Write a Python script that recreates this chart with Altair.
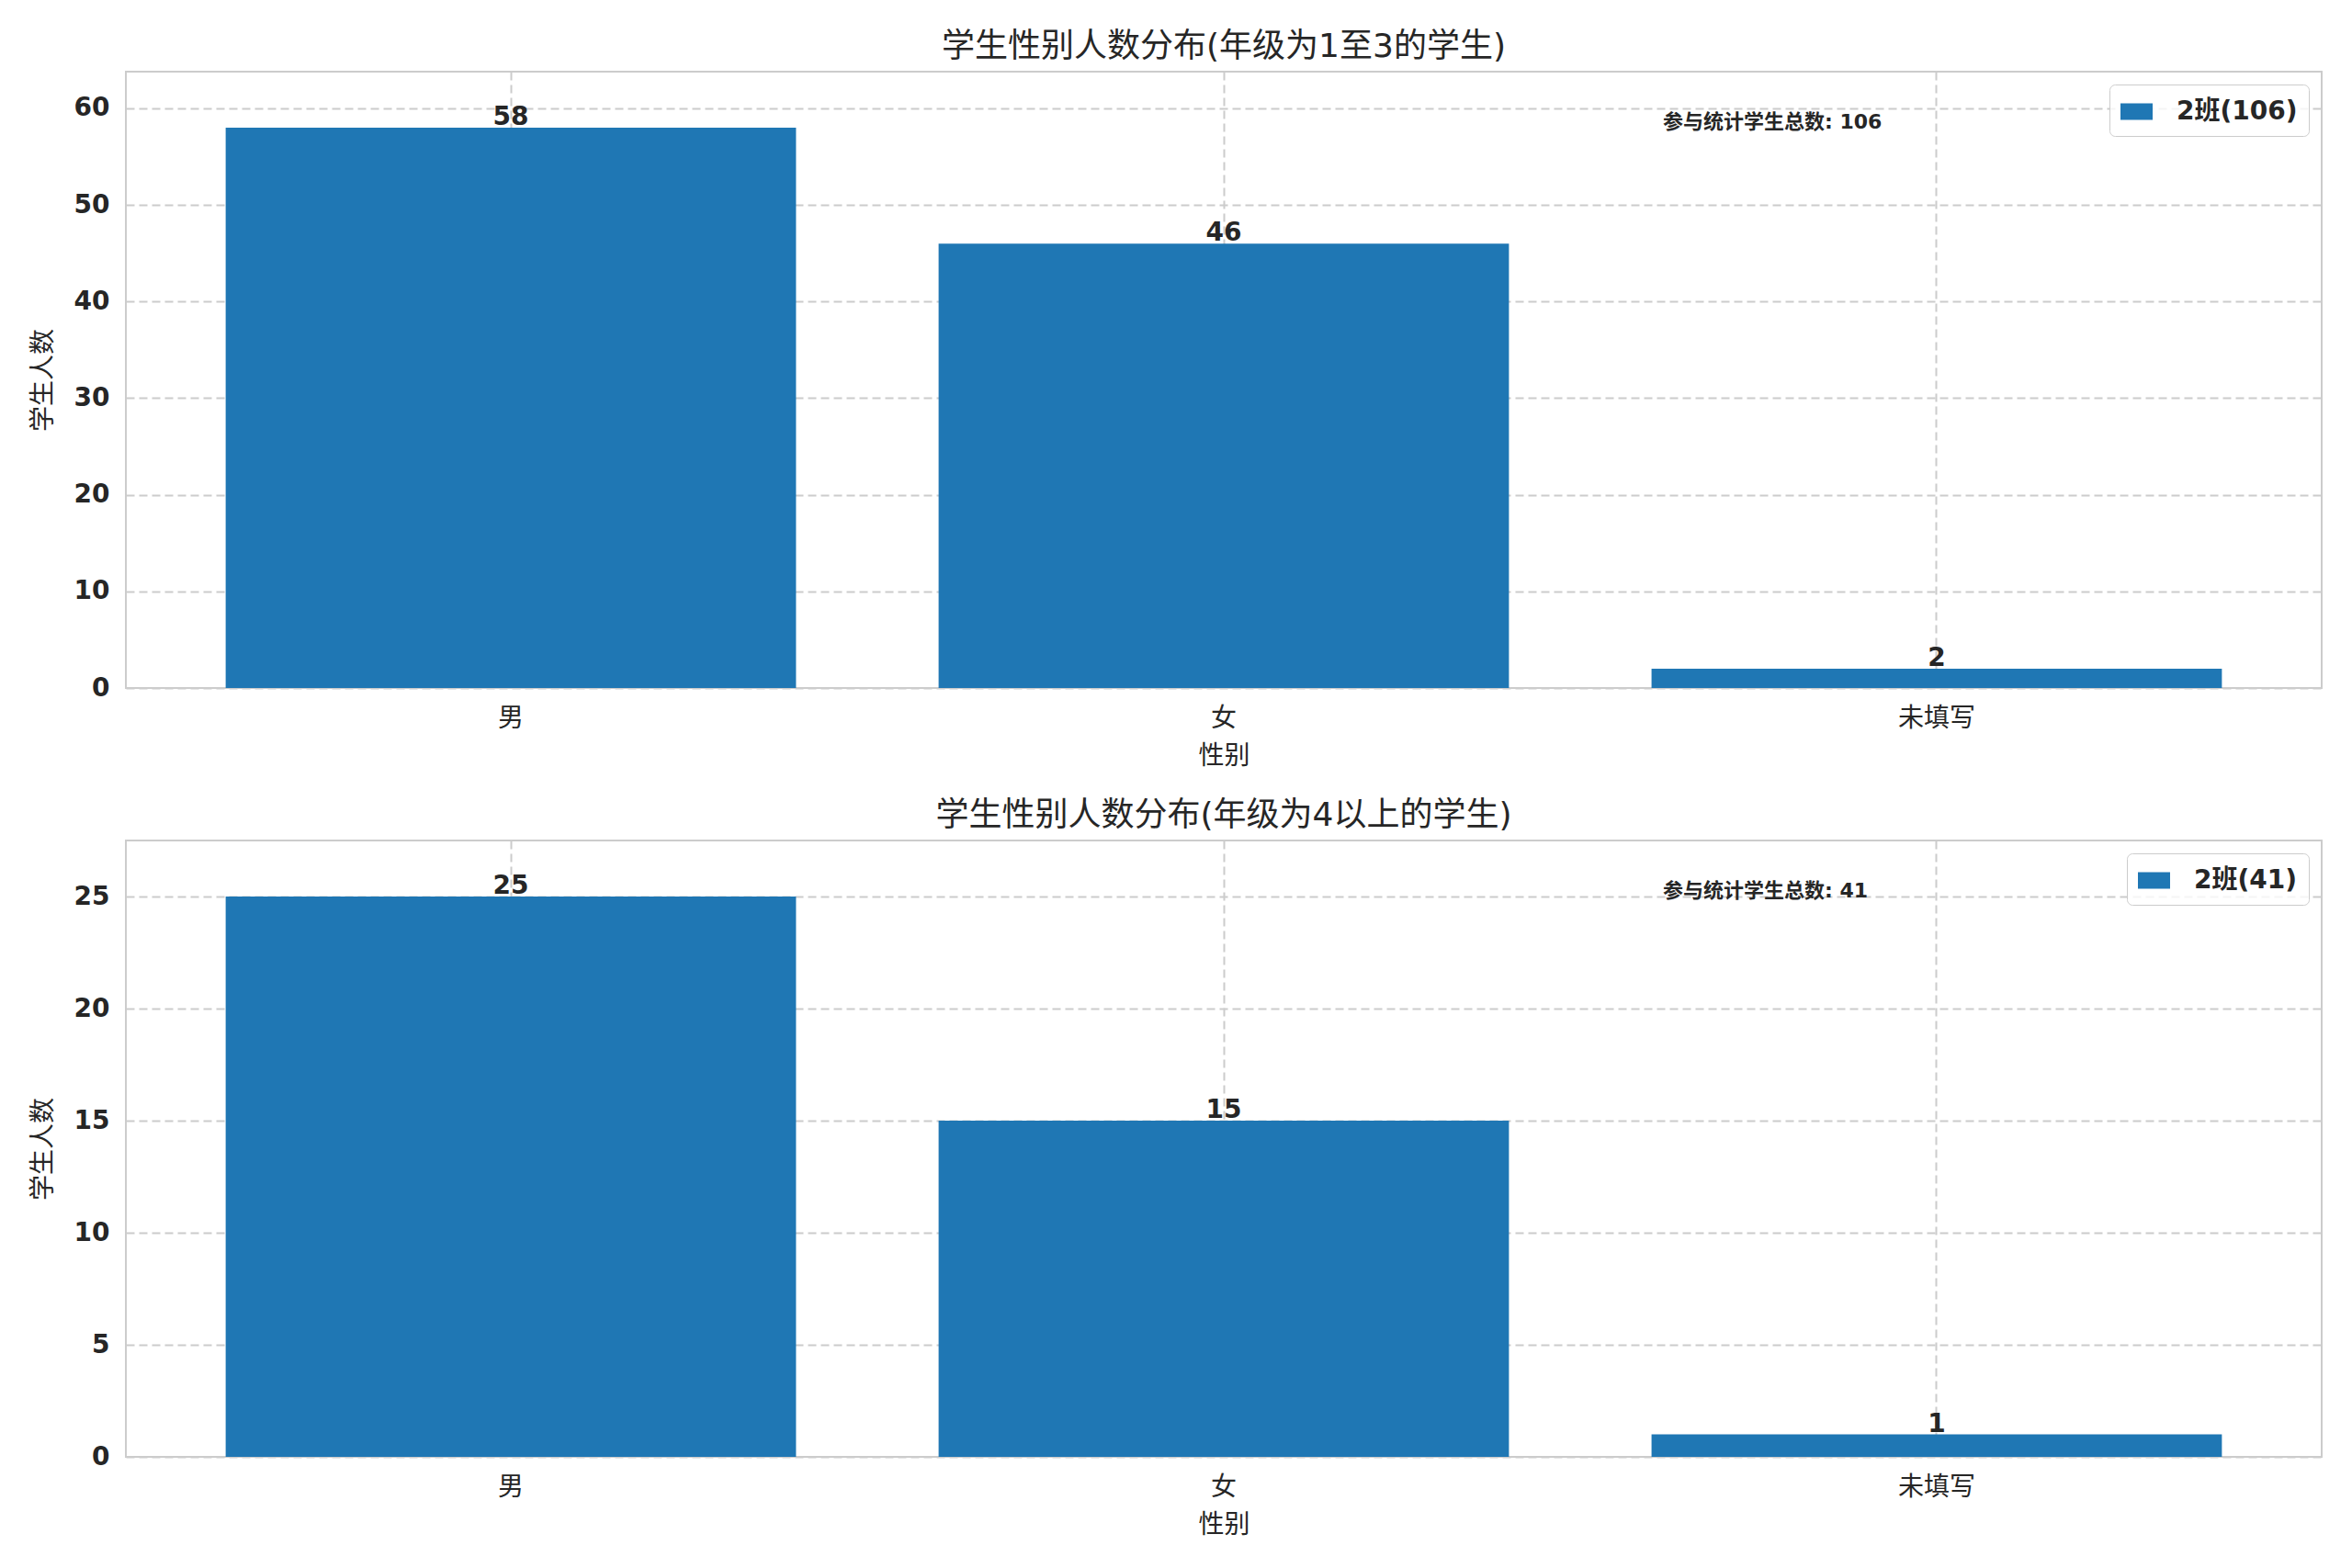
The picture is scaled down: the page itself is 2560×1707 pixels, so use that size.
import altair as alt
import pandas as pd

categories = ["男", "女", "未填写"]
counts_top = [58, 46, 2]
counts_bottom = [25, 15, 1]
series_top = "2班(106)"
series_bottom = "2班(41)"
total_top = 106
total_bottom = 41
title_top = "学生性别人数分布(年级为1至3的学生)"
title_bottom = "学生性别人数分布(年级为4以上的学生)"
ticks_top = [0, 10, 20, 30, 40, 50, 60]
ticks_bottom = [0, 5, 10, 15, 20, 25]
note_label = "参与统计学生总数"

BLUE = "#1f77b4"
TXT = "#262626"
GRID = "#cccccc"
FONT = "DejaVu Sans, Noto Sans CJK SC"
W = 2390
H = 671


def panel(values, series, total, title, ticks, ymax):
    df = pd.DataFrame({"性别": categories, "学生人数": values, "series": [series] * len(values)})
    base = alt.Chart(df)
    x = alt.X(
        "性别:N",
        sort=categories,
        scale=alt.Scale(paddingInner=0.2, paddingOuter=0.14),
        axis=alt.Axis(
            title="性别",
            labelAngle=0,
            labelFontSize=28,
            labelColor=TXT,
            labelPadding=19,
            titleFontSize=28,
            titleFontWeight="normal",
            titleColor=TXT,
            titlePadding=13,
            grid=True,
            gridDash=[9, 5],
            gridColor=GRID,
            gridWidth=2,
            bandPosition=0.5,
            domain=False,
            ticks=False,
            tickSize=0,
        ),
    )
    y = alt.Y(
        "学生人数:Q",
        scale=alt.Scale(domain=[0, ymax], nice=False, zero=True),
        axis=alt.Axis(
            title="学生人数",
            values=ticks,
            labelFontSize=28,
            labelFontWeight="bold",
            labelColor=TXT,
            labelPadding=18,
            titleFontSize=28,
            titleFontWeight="normal",
            titleColor=TXT,
            titlePadding=19,
            grid=True,
            gridDash=[9, 5],
            gridColor=GRID,
            gridWidth=2,
            domain=False,
            ticks=False,
            tickSize=0,
        ),
    )
    bars = base.mark_bar().encode(
        x=x,
        y=y,
        color=alt.Color(
            "series:N",
            scale=alt.Scale(range=[BLUE]),
            legend=alt.Legend(
                title=None,
                orient="top-right",
                offset=14,
                padding=12,
                fillColor="rgba(255,255,255,0.8)",
                strokeColor=GRID,
                cornerRadius=6,
                labelFontSize=28,
                labelFontWeight="bold",
                labelColor=TXT,
                labelOffset=26,
                symbolType="M-1,-0.51L1,-0.51L1,0.51L-1,0.51Z",
                symbolSize=1225,
                symbolStrokeWidth=0,
            ),
        ),
    )
    labels = base.mark_text(
        baseline="alphabetic", dy=-3, fontSize=28, fontWeight="bold", color=TXT, font=FONT
    ).encode(x=alt.X("性别:N", sort=categories), y="学生人数:Q", text="学生人数:Q")
    note_df = pd.DataFrame({"t": [f"{note_label}: {total}"]})
    note = alt.Chart(note_df).mark_text(
        align="left", baseline="bottom", fontSize=22, fontWeight="bold", color=TXT, font=FONT
    ).encode(x=alt.value(0.7 * W), y=alt.value(0.1 * H), text="t:N")
    return alt.layer(bars, labels, note).properties(
        width=W,
        height=H,
        title=alt.TitleParams(title, fontSize=36, fontWeight="normal", color=TXT, offset=8, font=FONT),
    )


top = panel(counts_top, series_top, total_top, title_top, ticks_top, 63.8)
bottom = panel(counts_bottom, series_bottom, total_bottom, title_bottom, ticks_bottom, 27.5)

chart = (
    alt.vconcat(top, bottom, spacing=31)
    .resolve_scale(color="independent")
    .resolve_legend(color="independent")
    .properties(padding={"left": 24, "top": 24, "right": 5, "bottom": 5}, background="white")
    .configure(font=FONT)
    .configure_view(stroke=GRID, strokeWidth=2)
)

chart.save("out.html", embed_options={"renderer": "svg", "actions": False})
